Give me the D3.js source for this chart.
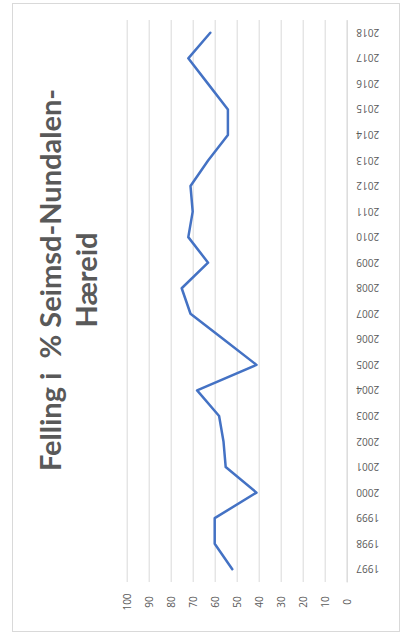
<!DOCTYPE html>
<html>
<head>
<meta charset="utf-8">
<script src="https://cdn.jsdelivr.net/npm/d3@7/dist/d3.min.js"></script>
<style>
  body { margin: 0; background: #fff; }
  svg { display: block; }
  .tick text { fill: #595959; font-family: "Open Sans", sans-serif; font-size: 10px; }
</style>
</head>
<body>
<div class="chart"></div>
<script>
// data
var years = ["1997", "1998", "1999", "2000", "2001", "2002", "2003", "2004", "2005", "2006", "2007",
             "2008", "2009", "2010", "2011", "2012", "2013", "2014", "2015", "2016", "2017", "2018"];
var felling = [52, 60, 60, 41, 55, 56, 58, 68, 41, 56, 71,
               75, 63, 72, 70, 71, 63, 54, 54, 63, 72, 62];
var valueTicks = [0, 10, 20, 30, 40, 50, 60, 70, 80, 90, 100];
var titleLines = ["Felling i  % Seimsd-Nundalen-", "Hæreid"];

var W = 404, H = 637;

var svg = d3.select(".chart").append("svg")
    .attr("width", W)
    .attr("height", H);

// chart frame
svg.append("rect")
    .attr("x", 12.5).attr("y", 3.5)
    .attr("width", 387).attr("height", 628)
    .attr("fill", "#fff")
    .attr("stroke", "#d9d9d9");

// the chart is turned on its side: years run bottom -> top, values right -> left
var plot = { top: 20, bottom: 582, left: 126.7, right: 346.7 };

var y = d3.scaleBand()
    .domain(years)
    .range([plot.bottom, plot.top]);

var x = d3.scaleLinear()
    .domain([0, 100])
    .range([plot.right, plot.left]);

// gridlines
var grid = svg.append("g")
    .attr("transform", "translate(0," + plot.bottom + ")")
    .call(d3.axisBottom(x).tickValues(valueTicks).tickSize(-(plot.bottom - plot.top)).tickFormat(""));
grid.select(".domain").remove();
grid.selectAll("line").attr("stroke", "#d9d9d9");

// value axis labels (rotated)
var vAxis = svg.append("g")
    .attr("transform", "translate(0,602)")
    .call(d3.axisBottom(x).tickValues(valueTicks).tickSize(0));
vAxis.select(".domain").remove();
vAxis.selectAll("text")
    .attr("y", 0).attr("dy", null)
    .attr("text-anchor", "middle")
    .attr("dominant-baseline", "central")
    .attr("transform", "rotate(-90)");

// category axis (years, upside down labels)
var cAxis = svg.append("g")
    .attr("transform", "translate(" + plot.right + ",0)")
    .call(d3.axisRight(y).tickSize(0));
cAxis.select(".domain").attr("stroke", "#d9d9d9");
cAxis.selectAll("text")
    .attr("x", 0).attr("dy", null)
    .attr("text-anchor", "middle")
    .attr("dominant-baseline", "central")
    .attr("transform", "translate(21,0) rotate(180)");

// the line
var line = d3.line()
    .x(function(d) { return x(d); })
    .y(function(d, i) { return y(years[i]) + y.bandwidth() / 2; });

svg.append("path")
    .datum(felling)
    .attr("fill", "none")
    .attr("stroke", "#4472c4")
    .attr("stroke-width", 2.5)
    .attr("stroke-linejoin", "round")
    .attr("stroke-linecap", "round")
    .attr("d", line);

// title, reading bottom to top
var titleX = [61, 97];
svg.selectAll(".title")
    .data(titleLines)
    .enter().append("text")
    .attr("class", "title")
    .attr("transform", function(d, i) { return "translate(" + titleX[i] + ",280) rotate(-90)"; })
    .attr("text-anchor", "middle")
    .attr("fill", "#595959")
    .style("font-family", "Lato, sans-serif")
    .style("font-weight", "bold")
    .style("font-size", "29px")
    .style("white-space", "pre")
    .text(function(d) { return d; });
</script>
</body>
</html>
